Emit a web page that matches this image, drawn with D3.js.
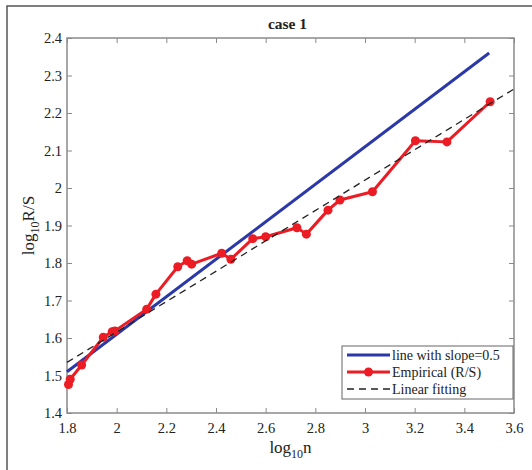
<!DOCTYPE html>
<html>
<head>
<meta charset="utf-8">
<script src="https://cdn.jsdelivr.net/npm/d3@7"></script>
<style>
  body { margin: 0; background: #fff; }
  svg text { font-family: "Liberation Serif", "Times New Roman", serif; fill: #222; }
</style>
</head>
<body>
<div id="chart"></div>
<script>
// Empirical R/S points (log10 n, log10 R/S)
const logN = [1.806, 1.813, 1.859, 1.946, 1.982, 1.993, 2.121, 2.158, 2.246, 2.284, 2.302,
              2.423, 2.460, 2.548, 2.600, 2.726, 2.764, 2.851, 2.899, 3.030, 3.203, 3.330, 3.504];
const logRS = [1.476, 1.490, 1.528, 1.602, 1.617, 1.619, 1.677, 1.717, 1.790, 1.806, 1.797,
               1.826, 1.810, 1.865, 1.870, 1.894, 1.877, 1.941, 1.968, 1.990, 2.126, 2.123, 2.230];

// reference line (slope 0.5) and linear fit, end points
const slopeLine = [[1.8, 1.51], [3.5, 2.36]];
const fitLine = [[1.8, 1.535], [3.6, 2.264]];

const xTicks = [1.8, 2, 2.2, 2.4, 2.6, 2.8, 3, 3.2, 3.4, 3.6];
const yTicks = [1.4, 1.5, 1.6, 1.7, 1.8, 1.9, 2, 2.1, 2.2, 2.3, 2.4];

const legendItems = ["line with slope=0.5", "Empirical (R/S)", "Linear fitting"];

const W = 532, H = 470;
const plot = {left: 67, right: 514, top: 38, bottom: 413};

const svg = d3.select("#chart").append("svg")
  .attr("width", W)
  .attr("height", H);

// outer frame
svg.append("rect")
  .attr("x", 7).attr("y", 6)
  .attr("width", W + 20).attr("height", H + 20)
  .attr("fill", "none")
  .attr("stroke", "#555")
  .attr("stroke-width", 1.5);

const x = d3.scaleLinear().domain([1.8, 3.6]).range([plot.left, plot.right]);
const y = d3.scaleLinear().domain([1.4, 2.4]).range([plot.bottom, plot.top]);

const axisColor = "#8a8a8a";

// axes with inward ticks
function styleAxis(g) {
  g.select(".domain").remove();
  g.selectAll(".tick line").attr("stroke", axisColor);
  g.selectAll(".tick text")
    .style("font-family", "'Liberation Serif', serif")
    .style("font-size", "14.5px")
    .attr("fill", "#222");
}

svg.append("g")
  .attr("transform", `translate(0,${plot.bottom})`)
  .call(d3.axisBottom(x).tickValues(xTicks).tickSize(-5).tickPadding(10).tickFormat(d3.format("")))
  .call(styleAxis);

svg.append("g")
  .attr("transform", `translate(0,${plot.top})`)
  .call(d3.axisTop(x).tickValues(xTicks).tickSize(-5).tickFormat(""))
  .call(styleAxis);

svg.append("g")
  .attr("transform", `translate(${plot.left},0)`)
  .call(d3.axisLeft(y).tickValues(yTicks).tickSize(-5).tickPadding(5).tickFormat(d3.format("")))
  .call(styleAxis);

svg.append("g")
  .attr("transform", `translate(${plot.right},0)`)
  .call(d3.axisRight(y).tickValues(yTicks).tickSize(-5).tickFormat(""))
  .call(styleAxis);

// plot box
svg.append("rect")
  .attr("x", plot.left).attr("y", plot.top)
  .attr("width", plot.right - plot.left)
  .attr("height", plot.bottom - plot.top)
  .attr("fill", "none")
  .attr("stroke", axisColor)
  .attr("stroke-width", 1.5);

const line = d3.line().x(d => x(d[0])).y(d => y(d[1]));

svg.append("path")
  .datum(slopeLine)
  .attr("d", line)
  .attr("fill", "none")
  .attr("stroke", "#2b38a8")
  .attr("stroke-width", 3);

const empirical = logN.map((v, i) => [v, logRS[i]]);

svg.append("path")
  .datum(empirical)
  .attr("d", line)
  .attr("fill", "none")
  .attr("stroke", "#ec1c24")
  .attr("stroke-width", 3)
  .attr("stroke-linejoin", "round");

svg.selectAll("circle.pt")
  .data(empirical)
  .enter()
  .append("circle")
  .attr("class", "pt")
  .attr("cx", d => x(d[0]))
  .attr("cy", d => y(d[1]))
  .attr("r", 4.5)
  .attr("fill", "#ec1c24");

svg.append("path")
  .datum(fitLine)
  .attr("d", line)
  .attr("fill", "none")
  .attr("stroke", "#222")
  .attr("stroke-width", 1.3)
  .attr("stroke-dasharray", "7,5");

// title
svg.append("text")
  .attr("x", (plot.left + plot.right) / 2 - 3)
  .attr("y", 29)
  .attr("text-anchor", "middle")
  .style("font-size", "15.5px")
  .style("font-weight", "bold")
  .text("case 1");

// axis labels
const xl = svg.append("text")
  .attr("x", (plot.left + plot.right) / 2)
  .attr("y", 453)
  .attr("text-anchor", "middle")
  .style("font-size", "17px");
xl.append("tspan").text("log");
xl.append("tspan").attr("dy", 5).style("font-size", "12px").text("10");
xl.append("tspan").attr("dy", -5).text("n");

const yl = svg.append("text")
  .attr("transform", `translate(34,${(plot.top + plot.bottom) / 2}) rotate(-90)`)
  .attr("text-anchor", "middle")
  .style("font-size", "17px");
yl.append("tspan").text("log");
yl.append("tspan").attr("dy", 5).style("font-size", "12px").text("10");
yl.append("tspan").attr("dy", -5).text("R/S");

// legend
const lg = svg.append("g").attr("transform", "translate(342,346)");
lg.append("rect")
  .attr("width", 171).attr("height", 53)
  .attr("fill", "#fff")
  .attr("stroke", "#666")
  .attr("stroke-width", 1);

const rows = lg.selectAll("g.row")
  .data(legendItems)
  .enter()
  .append("g")
  .attr("class", "row")
  .attr("transform", (d, i) => `translate(0,${9 + i * 17})`);

rows.append("line")
  .attr("x1", 5).attr("x2", 48)
  .attr("stroke", (d, i) => ["#2b38a8", "#ec1c24", "#222"][i])
  .attr("stroke-width", (d, i) => i === 2 ? 1.3 : 3)
  .attr("stroke-dasharray", (d, i) => i === 2 ? "7,5" : null);

rows.filter((d, i) => i === 1).append("circle")
  .attr("cx", 26.5).attr("r", 4.5)
  .attr("fill", "#ec1c24");

rows.append("text")
  .attr("x", 50)
  .attr("dy", "0.35em")
  .style("font-size", "14px")
  .text(d => d);
</script>
</body>
</html>
